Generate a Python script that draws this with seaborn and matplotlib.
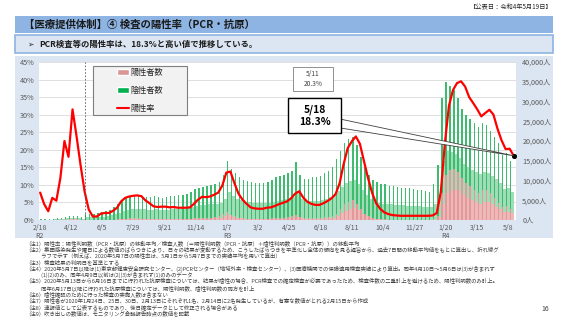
import matplotlib
matplotlib.use('Agg')
import matplotlib.pyplot as plt
import matplotlib.dates as mdates
from matplotlib.patches import Rectangle, Patch
from matplotlib.lines import Line2D
import pandas as pd
import seaborn as sns

# 週ごとの値（2020-02-19 から7日おき、最後は 2022-05-18）
week_start = '2020-02-19'

# 陽性率（7日間移動平均, %）
rate = [7.8, 4.5, 2.5, 6.3, 5.5, 12.0, 22.5, 18.0, 31.5, 23.8,
        15.5, 8.0, 3.0, 1.0, 1.0, 1.8, 2.0, 2.0, 2.6, 3.5,
        5.3, 6.3, 6.7, 6.9, 7.0, 6.8, 5.6, 4.8, 3.9, 3.7,
        3.8, 3.8, 3.6, 3.7, 3.5, 3.5, 3.5, 3.6, 4.6, 5.8,
        6.6, 6.5, 6.7, 7.2, 7.8, 9.8, 13.5, 13.8, 10.5, 7.5,
        5.8, 4.6, 3.6, 3.3, 3.2, 3.2, 3.5, 3.6, 4.0, 4.5,
        4.9, 5.3, 6.2, 7.5, 8.2, 6.4, 5.2, 4.6, 4.3, 4.3,
        4.8, 5.4, 6.2, 7.4, 10.5, 16.0, 20.5, 22.4, 23.8, 21.7,
        16.8, 12.0, 7.8, 4.8, 3.2, 2.2, 1.7, 1.4, 1.3, 1.2,
        1.2, 1.2, 1.2, 1.2, 1.2, 1.2, 1.2, 1.3, 2.0, 8.0,
        21.9, 32.5, 37.0, 39.0, 39.5, 38.0, 35.0, 33.3, 31.5, 29.5,
        30.5, 31.4, 30.0, 26.0, 22.7, 20.2, 20.3, 18.3]

# 陰性者数（平日の高い日 / 週末の低い日）
neg_peak = [90, 140, 200, 230, 280, 350, 470, 660, 620, 760,
            760, 740, 1550, 1490, 1490, 1670, 1860, 2160, 2530, 3090,
            3790, 4690, 5130, 5590, 5860, 5780, 5660, 5520, 5570, 5780,
            5580, 5290, 5590, 5780, 5980, 6080, 6180, 6460, 6870, 7350,
            7660, 7850, 8020, 8170, 8300, 8570, 9950, 12930, 11640, 10920,
            10170, 9730, 9450, 9280, 9100, 9000, 9070, 9250, 9700, 10310,
            10650, 10800, 11070, 11560, 13500, 10760, 9950, 10020, 10340, 10340,
            10660, 11160, 11730, 12500, 13870, 14700, 15500, 15910, 16000, 14880,
            13310, 11880, 10600, 9520, 9200, 9000, 8850, 8580, 8390, 8200,
            8100, 7900, 7900, 7710, 7510, 7410, 7310, 6910, 8820, 12880,
            24210, 23630, 21420, 20130, 18760, 17360, 17230, 17010, 16780, 16570,
            17030, 16460, 15750, 15540, 15070, 13170, 13550, 12260]
neg_low = [40, 60, 90, 100, 130, 160, 210, 300, 280, 340,
           340, 330, 700, 670, 670, 750, 840, 970, 1140, 1390,
           1710, 2110, 2310, 2520, 2640, 2600, 2550, 2480, 2510, 2600,
           2510, 2380, 2520, 2600, 2690, 2740, 2780, 2910, 3090, 3310,
           3450, 3530, 3610, 3680, 3740, 3860, 4480, 5820, 5240, 4910,
           4580, 4380, 4250, 4180, 4100, 4050, 4080, 4160, 4370, 4640,
           4790, 4860, 4980, 5200, 6080, 4840, 4480, 4510, 4650, 4650,
           4800, 5020, 5280, 5630, 6240, 6620, 6980, 7160, 7200, 6700,
           5990, 5350, 4770, 4280, 4140, 4050, 3980, 3860, 3780, 3690,
           3650, 3560, 3560, 3470, 3380, 3330, 3290, 3110, 3970, 5800,
           10890, 10630, 9640, 9060, 8440, 7810, 7750, 7650, 7550, 7460,
           7660, 7410, 7090, 6990, 6780, 5930, 6100, 5520]

# 陽性者数（平日の高い日 / 週末の低い日）
pos_peak = [10, 10, 5, 15, 15, 50, 140, 140, 280, 240,
            140, 60, 50, 15, 15, 30, 40, 45, 70, 110,
            210, 310, 370, 410, 440, 420, 340, 280, 230, 220,
            220, 210, 210, 220, 220, 220, 220, 240, 330, 450,
            540, 550, 580, 630, 700, 930, 1550, 2070, 1370, 890,
            630, 470, 350, 320, 300, 300, 330, 350, 400, 490,
            550, 600, 730, 940, 1200, 740, 550, 480, 460, 460,
            540, 640, 780, 1000, 1630, 2800, 4000, 4590, 5000, 4120,
            2690, 1620, 900, 480, 300, 200, 150, 120, 110, 100,
            100, 100, 100, 90, 90, 90, 90, 90, 180, 1120,
            6790, 11370, 12580, 12870, 12250, 10640, 9280, 8490, 7720, 6930,
            7470, 7540, 6750, 5460, 4430, 3330, 3450, 2750]
pos_low = [5, 5, 3, 9, 9, 30, 80, 80, 170, 140,
           80, 40, 30, 9, 9, 20, 25, 30, 40, 65,
           130, 190, 220, 250, 260, 250, 200, 170, 140, 130,
           130, 130, 130, 130, 130, 130, 130, 140, 200, 270,
           320, 330, 350, 380, 420, 560, 930, 1240, 820, 530,
           380, 280, 210, 190, 180, 180, 200, 210, 240, 290,
           330, 360, 440, 560, 720, 440, 330, 290, 280, 280,
           320, 380, 470, 600, 980, 1680, 2400, 2750, 3000, 2470,
           1610, 970, 540, 290, 180, 120, 90, 70, 70, 60,
           60, 60, 60, 55, 55, 55, 55, 55, 110, 670,
           4070, 6820, 7550, 7720, 7350, 6380, 5570, 5090, 4630, 4160,
           4480, 4520, 4050, 3280, 2660, 2000, 2070, 1650]

tick_dates = ['2020-02-18', '2020-04-12', '2020-06-05', '2020-07-29',
              '2020-09-21', '2020-11-14', '2021-01-07', '2021-03-02',
              '2021-04-25', '2021-06-18', '2021-08-11', '2021-10-04',
              '2021-11-27', '2022-01-20', '2022-03-15', '2022-05-08']
tick_labels = ['2/18\nR2', '4/12', '6/5', '7/29', '9/21', '11/14', '1/7\nR3',
               '3/2', '4/25', '6/18', '8/11', '10/4', '11/27', '1/20\nR4',
               '3/15', '5/8']
pct_ticks = [0, 5, 10, 15, 20, 25, 30, 35, 40, 45]
count_ticks = [0, 5000, 10000, 15000, 20000, 25000, 30000, 35000, 40000]

notes = [
    '（注1）陽性率：陽性判明数（PCR・抗原）の移動平均／検査人数（＝陽性判明数（PCR・抗原）＋陰性判明数（PCR・抗原））の移動平均',
    '（注2）集団感染発生や曜日による数値のばらつきにより、日々の結果が変動するため、こうしたばらつきを平準化し全体の傾向を見る趣旨から、過去7日間の移動平均値をもとに算出し、折れ線グ',
    '　　　ラフで示す（例えば、2020年5月7日の陽性率は、5月1日から5月7日までの実績平均を用いて算出）',
    '（注3）検査結果の判明日を基準とする',
    '（注4）2020年5月7日以降は(1)東京都健康安全研究センター、(2)PCRセンター（地域外来・検査センター）、(3)医療機関での保険適用検査実績により算出。同年4月10日～5月6日は(3)が含まれず',
    '　　　(1)(2)のみ、同年4月9日以前は(2)(3)が含まれず(1)のみのデータ',
    '（注5）2020年5月13日から6月16日までに行われた抗原検査については、結果が陰性の場合、PCR検査での確定検査が必要であったため、検査件数の二重計上を避けるため、陽性判明数のみ計上。',
    '　　　同年6月17日以降に行われた抗原検査については、陽性判明数、陰性判明数の両方を計上',
    '（注6）陰性確認のために行った検査の実施人数は含まない',
    '（注7）陽性者が2020年1月24日、25日、30日、2月13日にそれぞれ1名、2月14日に2名発生しているが、有意な数値がとれる2月15日から作成',
    '（注8）速報値として公表するものであり、後日確定データとして修正される場合がある',
    '（注9）吹き出しの数値は、モニタリング会議報告時点の数値を記載',
]

sns.set_style('white')
plt.rcParams['font.family'] = ['Noto Sans CJK JP', 'DejaVu Sans']

W, H = 569, 320
def fx(px):
    return px / W
def fy(py):
    return 1 - py / H

fig = plt.figure(figsize=(W / 100, H / 100), dpi=100)

# ヘッダー
fig.add_artist(Rectangle((fx(15), fy(33)), fx(553) - fx(15), fy(16) - fy(33),
                         transform=fig.transFigure, fc='#8DB4E2', ec='none', zorder=-2))
fig.text(fx(24), fy(24.5), '【医療提供体制】④ 検査の陽性率（PCR・抗原）',
         fontsize=7.5, fontweight='bold', va='center', color='#1a1a1a')
fig.add_artist(Rectangle((fx(15), fy(53)), fx(553) - fx(15), fy(35) - fy(53),
                         transform=fig.transFigure, fc='#DCE6F2', ec='#8DB4E2', lw=1.2, zorder=-2))
fig.text(fx(27), fy(44), '➢', fontsize=5.5, va='center', family='DejaVu Sans')
fig.text(fx(39), fy(44), 'PCR検査等の陽性率は、18.3%と高い値で推移している。',
         fontsize=6, fontweight='bold', va='center', color='#1a1a1a')
fig.text(fx(553), fy(7), '【公表日：令和4年5月19日】', fontsize=4.5, ha='right', va='center')

# グラフ背景
fig.add_artist(Rectangle((fx(15), fy(238)), fx(553) - fx(15), fy(56) - fy(238),
                         transform=fig.transFigure, fc='#DCE6F2', ec='none', zorder=-2))

weeks = pd.date_range(week_start, periods=len(rate), freq='7D')
xnum = mdates.date2num(weeks)

ax = fig.add_axes([fx(39), fy(220), fx(516) - fx(39), fy(62) - fy(220)])
ax.set_facecolor('white')
for p in pct_ticks[1:]:
    ax.axhline(p / 45 * 40000, color='#D9D9D9', lw=0.6, zorder=0)

green_dark = '#3DBB6E'
green_light = '#9EDDB5'
pink_dark = '#E39999'
pink_light = '#EEB8B8'
# 週末の低い日（薄い色）と平日の山（濃い色）
ax.bar(xnum - 4.0, pos_low, width=4.5, align='edge', color=pink_light, lw=0)
ax.bar(xnum - 4.0, neg_low, width=4.5, bottom=pos_low, align='edge', color=green_light, lw=0)
ax.bar(xnum - 6.5, pos_peak, width=2.5, align='edge', color=pink_dark, lw=0)
ax.bar(xnum - 6.5, neg_peak, width=2.5, bottom=pos_peak, align='edge', color=green_dark, lw=0)

ax2 = ax.twinx()
sns.lineplot(x=xnum, y=rate, ax=ax2, color='#FF0000', linewidth=1.6)
ax2.scatter([xnum[-1]], [rate[-1]], s=7, color='black', zorder=8)
ax2.axvline(mdates.date2num(pd.Timestamp('2020-05-07')), color='#595959', lw=0.6,
            ls=(0, (2, 2)))

ax.set_xlim(mdates.date2num(pd.Timestamp('2020-02-17')),
            mdates.date2num(pd.Timestamp('2022-05-22')))
ax.set_ylim(0, 40000)
ax2.set_ylim(0, 45)

ax.yaxis.tick_right()
ax2.yaxis.tick_left()
ax.set_yticks(count_ticks)
ax.set_yticklabels([f'{v:,}人' for v in count_ticks])
ax2.set_yticks(pct_ticks)
ax2.set_yticklabels([f'{v}%' for v in pct_ticks])
ax.set_xticks(mdates.date2num(pd.to_datetime(tick_dates)))
ax.set_xticklabels(tick_labels, linespacing=0.95)
ax.tick_params(axis='y', length=0, pad=4.5, labelsize=5.2, colors='#595959')
ax2.tick_params(axis='y', length=0, pad=3.5, labelsize=5.2, colors='#595959')
ax.tick_params(axis='x', length=0, pad=3, labelsize=5, colors='#595959')
ax.set_xlabel('')
ax2.set_xlabel('')
ax2.set_ylabel('')
for a in (ax, ax2):
    for s in a.spines.values():
        s.set_visible(False)

# 凡例
ax2.add_patch(Rectangle((0.1126, 0.665), 0.198, 0.31, transform=ax2.transAxes,
                        fc='#F2F2F2', ec='#7F7F7F', lw=0.8, zorder=9))
handles = [Patch(fc='#D99694', label='陽性者数'),
           Patch(fc='#00B050', label='陰性者数'),
           Line2D([], [], color='#FF0000', lw=1.5, label='陽性率')]
leg = ax2.legend(handles=handles, loc='center', bbox_to_anchor=(0.211, 0.82),
                 frameon=False, fontsize=5.9, labelspacing=1.1, handlelength=1.5,
                 handleheight=0.6, handletextpad=0.1, borderpad=0)
leg.set_zorder(10)

# 吹き出し
ax2.add_patch(Rectangle((0.532, 0.816), 0.084, 0.152, transform=ax2.transAxes,
                        fc='white', ec='#7F7F7F', lw=0.6, zorder=9))
ax2.text(0.574, 0.892, '5/11\n20.3%', transform=ax2.transAxes, ha='center', va='center',
         fontsize=4.8, color='#404040', linespacing=1.2, zorder=10)
ax2.annotate('', xy=(xnum[-1], rate[-1]), xycoords='data',
             xytext=(0.62, 0.617), textcoords='axes fraction',
             arrowprops=dict(arrowstyle='wedge,tail_width=0.65,shrink_factor=0.5',
                             fc='white', ec='#404040', lw=0.6, shrinkA=0, shrinkB=0),
             zorder=9)
ax2.add_patch(Rectangle((0.522, 0.551), 0.111, 0.221, transform=ax2.transAxes,
                        fc='white', ec='black', lw=1.0, zorder=10))
ax2.text(0.578, 0.661, '5/18\n18.3%', transform=ax2.transAxes, ha='center', va='center',
         fontsize=7.4, fontweight='bold', color='black', linespacing=1.3, zorder=11)

# 注記
for i, line in enumerate(notes):
    fig.text(fx(25), fy(243 + 6.4 * i), line, fontsize=3.9, va='center', color='#404040')
fig.text(fx(541), fy(309), '16', fontsize=5, va='center', color='#404040')

fig.savefig('out.png', dpi=100)
